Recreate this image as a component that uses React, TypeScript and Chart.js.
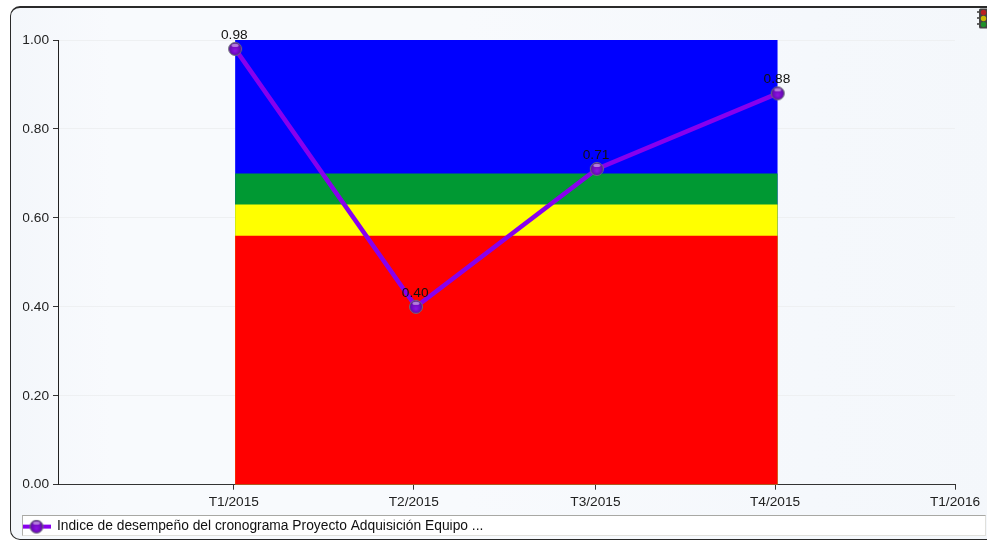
import React, { useEffect, useRef } from "react";
import { Chart, registerables } from "chart.js";

Chart.register(...registerables);

const categoryLabels = ["T1/2015", "T2/2015", "T3/2015", "T4/2015", "T1/2016"];
const categoryPositions = [0, 1, 2, 3];
const xTickPositions = [-0.007, 0.988, 1.992, 2.985, 3.986];
const performanceValues = [0.98, 0.4, 0.71, 0.88];
const seriesName = "Índice de desempeño del cronograma Proyecto Adquisición Equipo ...";
const bandStart = [0, 3];
const bandTops = [1.0, 0.7, 0.63, 0.56];
const bandNames = ["Azul", "Verde", "Amarillo", "Rojo"];
const bandColors = ["#0000ff", "#009933", "#ffff00", "#ff0000"];
const yTicks = [0, 0.2, 0.4, 0.6, 0.8, 1.0];

const LINE = "#8800ee";
const FONT = "'Liberation Sans', Arial, sans-serif";
const FONT_SIZE = 13.7;

function ball(ctx: CanvasRenderingContext2D, cx: number, cy: number, r: number) {
  const g = ctx.createRadialGradient(cx, cy + r * 0.3, r * 0.1, cx, cy, r);
  g.addColorStop(0, "#8a12e0");
  g.addColorStop(0.75, "#6a08b8");
  g.addColorStop(1, "#4a2a70");
  ctx.beginPath();
  ctx.arc(cx, cy, r, 0, Math.PI * 2);
  ctx.fillStyle = g;
  ctx.fill();
  ctx.strokeStyle = "#6f6a80";
  ctx.lineWidth = 1;
  ctx.stroke();
  ctx.beginPath();
  ctx.ellipse(cx, cy - r * 0.55, r * 0.55, r * 0.25, 0, 0, Math.PI * 2);
  ctx.fillStyle = "rgba(225,200,240,0.6)";
  ctx.fill();
}

function makePointSprite() {
  const c = document.createElement("canvas");
  c.width = 16;
  c.height = 16;
  ball(c.getContext("2d")!, 8, 8, 6.5);
  return c;
}

function makeLegendSprite() {
  const c = document.createElement("canvas");
  c.width = 28;
  c.height = 16;
  const ctx = c.getContext("2d")!;
  ctx.fillStyle = LINE;
  ctx.fillRect(0, 6, 28, 4);
  ball(ctx, 14, 8, 6.5);
  return c;
}

const valueLabels = {
  id: "valueLabels",
  afterDatasetsDraw(chart: any) {
    const ctx = chart.ctx;
    const idx = chart.data.datasets.findIndex((d: any) => d.label === seriesName);
    const meta = chart.getDatasetMeta(idx);
    ctx.save();
    ctx.font = `${FONT_SIZE}px ${FONT}`;
    ctx.fillStyle = "#111111";
    ctx.textAlign = "center";
    ctx.textBaseline = "middle";
    meta.data.forEach((pt: any, i: number) => {
      ctx.fillText(performanceValues[i].toFixed(2), pt.x - 0.8, pt.y - 14);
    });
    ctx.restore();
  },
};

export default function App() {
  const ref = useRef<HTMLCanvasElement>(null);

  useEffect(() => {
    const sprite = makePointSprite();
    const legendSprite = makeLegendSprite();
    const bands = bandTops.map((top, i) => ({
      type: "line" as const,
      label: bandNames[i],
      data: bandStart.map((x) => ({ x, y: top })),
      borderWidth: 0,
      borderColor: bandColors[i],
      backgroundColor: bandColors[i],
      pointRadius: 0,
      fill: "origin",
      order: 5 - i,
    }));
    const chart = new Chart(ref.current!, {
      type: "line",
      data: {
        datasets: [
          ...bands,
          {
            type: "line" as const,
            label: seriesName,
            data: categoryPositions.map((x, i) => ({ x, y: performanceValues[i] })),
            borderColor: LINE,
            borderWidth: 4.5,
            backgroundColor: LINE,
            pointStyle: sprite,
            pointRadius: 7,
            fill: false,
            tension: 0,
            order: 1,
            clip: false,
          },
        ],
      } as any,
      options: {
        responsive: false,
        animation: false,
        events: [],
        layout: { padding: { left: 23, right: 32, top: 40, bottom: -2.5 } },
        scales: {
          x: {
            type: "linear",
            min: -0.979,
            max: 3.98,
            afterBuildTicks: (axis: any) => {
              axis.ticks = xTickPositions.map((value) => ({ value: Math.min(value, 3.98) }));
            },
            afterFit: (axis: any) => {
              axis.height = 35;
            },
            grid: { drawOnChartArea: false, tickColor: "#333333", tickLength: 5 },
            border: { color: "#333333", width: 1 },
            ticks: {
              autoSkip: false,
              maxRotation: 0,
              color: "#222222",
              font: { family: FONT, size: FONT_SIZE },
              padding: 4.5,
              callback: (_v: any, i: number) => categoryLabels[i],
            },
          },
          y: {
            type: "linear",
            min: 0,
            max: 1,
            afterBuildTicks: (axis: any) => {
              axis.ticks = yTicks.map((value) => ({ value }));
            },
            afterFit: (axis: any) => {
              axis.width = 35;
            },
            grid: { color: "#eef0f2", tickColor: "#333333", tickLength: 5 },
            border: { color: "#222222", width: 1 },
            ticks: {
              color: "#222222",
              font: { family: FONT, size: FONT_SIZE },
              padding: 4,
              callback: (v: any) => Number(v).toFixed(2),
            },
          },
        },
        plugins: {
          title: { display: false },
          tooltip: { enabled: false },
          legend: {
            display: true,
            position: "bottom",
            align: "start",
            labels: {
              usePointStyle: true,
              pointStyleWidth: 27,
              padding: 0,
              color: "#111111",
              font: { family: FONT, size: 13.8 },
              generateLabels: () => [
                {
                  text: seriesName,
                  pointStyle: legendSprite,
                  fillStyle: LINE,
                  strokeStyle: LINE,
                  lineWidth: 0,
                  datasetIndex: bandTops.length,
                  fontColor: "#111111",
                } as any,
              ],
            },
          },
        },
      },
      plugins: [valueLabels],
    } as any);
    return () => chart.destroy();
  }, []);

  return (
    <div style={{ position: "absolute", left: 0, top: 0, width: 987, height: 541, overflow: "hidden", background: "#ffffff" }}>
      <div
        style={{
          position: "absolute",
          left: 10,
          top: 6,
          width: 1000,
          height: 534,
          boxSizing: "border-box",
          border: "1px solid #2a2a2a",
          borderTopWidth: 2,
          borderRadius: 10,
          background: "linear-gradient(90deg,#f4f7fb 0%,#f8fafd 10%,#f8fafd 45%,#f5f8fc 80%,#f4f7fb 100%)",
        }}
      />
      <div
        style={{
          position: "absolute",
          left: 22,
          top: 515,
          width: 964,
          height: 21,
          boxSizing: "border-box",
          background: "#ffffff",
          borderTop: "1px solid #a8a8a4",
          borderLeft: "1px solid #b0b0ac",
          borderRight: "1px solid #e0e0dc",
          borderBottom: "1px solid #e0e0dc",
        }}
      />
      <svg style={{ position: "absolute", left: 977, top: 8 }} width="10" height="21" viewBox="0 0 10 21">
        <rect x="2" y="0.5" width="9" height="20" rx="1.5" fill="#444444" />
        <path d="M0 3h2v2H0zM0 9h2v2H0zM0 15h2v2H0z" fill="#666666" />
        <circle cx="6.5" cy="4.5" r="2.7" fill="#b82020" />
        <circle cx="6.5" cy="10.5" r="2.7" fill="#c8b800" />
        <circle cx="6.5" cy="16.5" r="2.7" fill="#20902a" />
      </svg>
      <canvas ref={ref} width={987} height={541} style={{ position: "absolute", left: 0, top: 0, display: "block" }} />
    </div>
  );
}
